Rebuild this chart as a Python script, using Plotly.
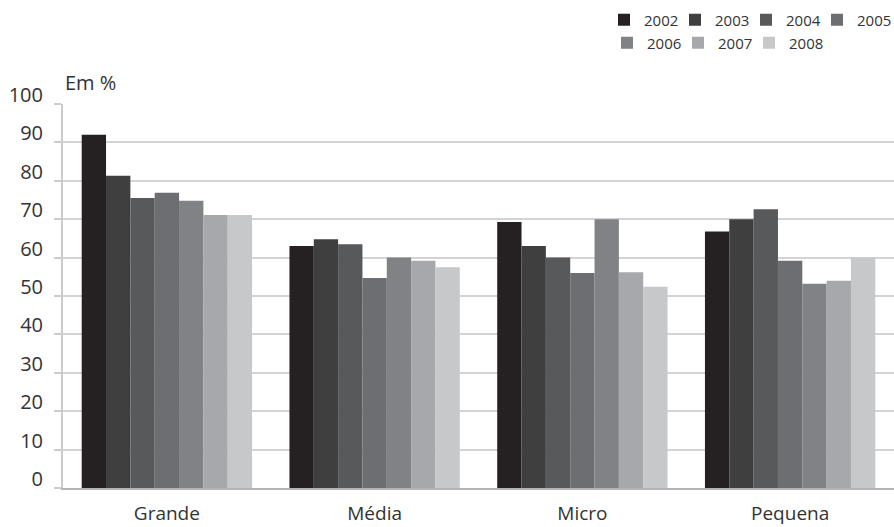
import plotly.graph_objects as go

# Porte da empresa
categorias = ["Grande", "Média", "Micro", "Pequena"]
anos = ["2002", "2003", "2004", "2005", "2006", "2007", "2008"]

# Percentuais por ano (Em %), na ordem das categorias
v2002 = [92.0, 63.0, 69.3, 66.8]
v2003 = [81.3, 64.8, 63.0, 70.0]
v2004 = [75.5, 63.5, 60.0, 72.6]
v2005 = [76.9, 54.7, 56.0, 59.2]
v2006 = [74.8, 60.0, 70.0, 53.2]
v2007 = [71.1, 59.2, 56.2, 54.0]
v2008 = [71.1, 57.5, 52.4, 60.0]

series = [v2002, v2003, v2004, v2005, v2006, v2007, v2008]
cores = ["#252122", "#3f3f3f", "#58595b", "#6d6e71", "#818285", "#a7a8ab", "#c7c8ca"]

FONT = "Open Sans"
TXT = "#333333"

fig = go.Figure()
for i, (ano, vals, cor) in enumerate(zip(anos, series, cores)):
    fig.add_trace(go.Bar(
        x=categorias, y=vals, name=ano,
        marker=dict(color=cor, line=dict(width=0)),
        legend="legend" if i < 4 else "legend2",
    ))

# empty, invisible entries closing each legend row so the last label keeps room
for leg in ("legend", "legend2"):
    fig.add_trace(go.Scatter(
        x=[None], y=[None], name=" ", legend=leg, mode="markers",
        marker=dict(color="rgba(0,0,0,0)", size=1), hoverinfo="skip",
    ))

legend_common = dict(
    orientation="h",
    xref="container", yref="container",
    xanchor="left", yanchor="middle",
    font=dict(family=FONT, size=15, color=TXT),
    bgcolor="rgba(0,0,0,0)",
    entrywidth=26,
    traceorder="normal",
)

fig.update_layout(
    width=894, height=527,
    margin=dict(l=63, r=0, t=104, b=39, autoexpand=False),
    paper_bgcolor="white", plot_bgcolor="white",
    barmode="group", bargap=0.18, bargroupgap=0,
    font=dict(family=FONT, color=TXT),
    showlegend=True,
    legend=dict(x=604 / 894, y=1 - 20 / 527, **legend_common),
    legend2=dict(x=607 / 894, y=1 - 43 / 527, **legend_common),
    xaxis=dict(
        range=[-0.5, 3.5],
        showline=True, linecolor="#b5b5b5", linewidth=2,
        showgrid=False, ticks="",
        tickfont=dict(family=FONT, size=19, color=TXT),
        ticklabelstandoff=7,
    ),
    yaxis=dict(
        range=[0, 100], tickvals=list(range(0, 101, 10)),
        showline=True, linecolor="#cccccc", linewidth=2,
        showgrid=True, gridcolor="#d4d4d4", gridwidth=2,
        ticks="outside", ticklen=7, tickcolor="#cccccc", tickwidth=2,
        tickfont=dict(family=FONT, size=20, color=TXT),
        ticklabelstandoff=7, ticklabelshift=-9,
        zeroline=False,
    ),
    annotations=[dict(
        text="Em %", xref="paper", yref="paper", x=0, y=1,
        xanchor="left", yanchor="bottom", xshift=0, yshift=6,
        showarrow=False, font=dict(family=FONT, size=20, color=TXT),
    )],
)

fig.write_html("out.html")
